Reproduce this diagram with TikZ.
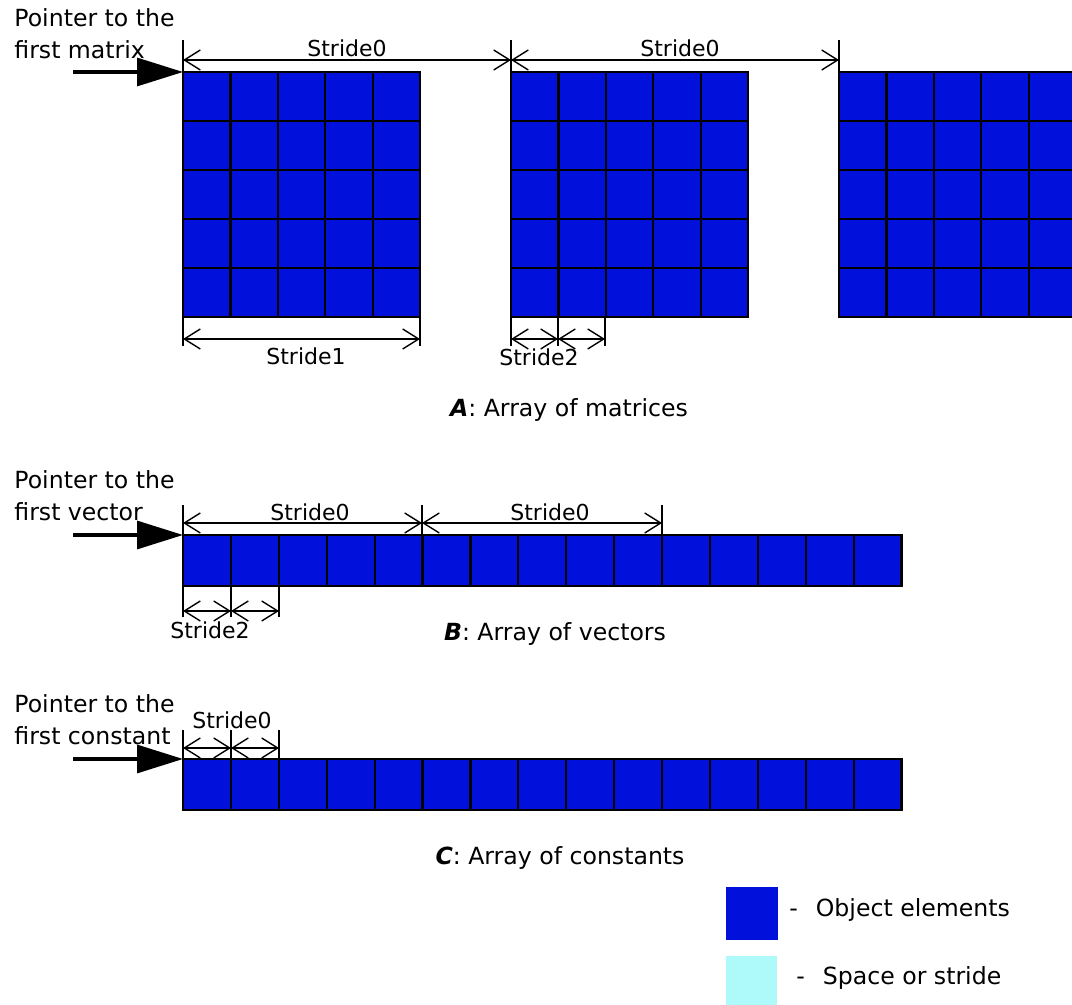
\documentclass[tikz,border=0pt]{standalone}
\usepackage{fontspec}
\setmainfont{DejaVu Sans}
\usepackage{tikz}
\usetikzlibrary{arrows.meta}

\definecolor{elemblue}{RGB}{2,16,220}
\definecolor{gapcyan}{RGB}{174,250,250}

\tikzset{
  elem/.style={draw=black, line width=1.1pt, fill=elemblue},
  dimline/.style={{Straight Barb[length=8pt,width=10pt]}-{Straight Barb[length=8pt,width=10pt]}, line width=0.7pt},
  extline/.style={line width=0.7pt},
  pointer/.style={-{Triangle[length=23pt,width=14pt]}, line width=1.6pt},
  lbl/.style={font=\fontsize{11}{13}\selectfont, inner sep=0pt},
  txt/.style={font=\fontsize{11.8}{16}\selectfont, inner sep=0pt, align=left},
}

\begin{document}
\begin{tikzpicture}[x=0.5pt, y=-0.5pt]
    \useasboundingbox (0,0) rectangle (1072,1005);
    \clip (0,0) rectangle (1072,1005);

    % A: array of matrices
    \begin{scope}
      \foreach \n/\mx in {1/183,2/511,3/839} {
        \foreach \c in {0,...,4}
          \foreach \r in {0,...,4}
            \draw[elem] (\mx+\c*47.4, 72+\r*49) rectangle +(47.4,49);
        \coordinate (atop\n) at (\mx,40);
        \coordinate (adim\n) at (\mx,60);
        \coordinate (am\n) at (\mx,72);
        \draw[extline] (atop\n) -- (am\n);
      }
      \draw[dimline] (adim1) -- (adim2);
      \draw[dimline] (adim2) -- (adim3);
      \node[lbl] (as0a) at (347,48) {Stride0};
      \node[lbl] (as0b) at (680,48) {Stride0};

      \coordinate (ap) at (73,72);
      \draw[pointer] (ap) -- (am1);
      \node[txt, anchor=north west] (ptrA) at (14,8) {Pointer to the\\first matrix};

      % row stride under the first matrix
      \coordinate (ab1) at (183,317);
      \coordinate (ab2) at (420,317);
      \coordinate (ae1) at (183,346);
      \coordinate (ae2) at (420,346);
      \coordinate (ad1) at (183,339);
      \coordinate (ad2) at (420,339);
      \draw[extline] (ab1) -- (ae1);
      \draw[extline] (ab2) -- (ae2);
      \draw[dimline] (ad1) -- (ad2);
      \node[lbl] (as1) at (306,356) {Stride1};

      % element stride under the second matrix
      \foreach \n/\x in {1/511,2/558,3/605} {
        \coordinate (ac\n) at (\x,317);
        \coordinate (acd\n) at (\x,339);
        \coordinate (ace\n) at (\x,346);
        \draw[extline] (ac\n) -- (ace\n);
      }
      \draw[dimline] (acd1) -- (acd2);
      \draw[dimline] (acd2) -- (acd3);
      \node[lbl] (as2) at (539,357) {Stride2};

      \node[txt] (capA) at (569,410) {\textbf{\textit{A}}: Array of matrices};
    \end{scope}

    % B: array of vectors
    \begin{scope}
      \foreach \c in {0,...,14}
        \draw[elem] (183+\c*47.9,535) rectangle +(47.9,51);
      \foreach \n/\x in {1/183,2/422,3/662} {
        \coordinate (btop\n) at (\x,505);
        \coordinate (bdim\n) at (\x,523);
        \coordinate (bm\n) at (\x,535);
        \draw[extline] (btop\n) -- (bm\n);
      }
      \draw[dimline] (bdim1) -- (bdim2);
      \draw[dimline] (bdim2) -- (bdim3);
      \node[lbl] (bs0a) at (310,512) {Stride0};
      \node[lbl] (bs0b) at (550,512) {Stride0};

      \coordinate (bp) at (73,535);
      \draw[pointer] (bp) -- (bm1);
      \node[txt, anchor=north west] (ptrB) at (14,470) {Pointer to the\\first vector};

      \foreach \n/\x in {1/183,2/231,3/279} {
        \coordinate (bc\n) at (\x,586);
        \coordinate (bcd\n) at (\x,611);
        \coordinate (bce\n) at (\x,617);
        \draw[extline] (bc\n) -- (bce\n);
      }
      \draw[dimline] (bcd1) -- (bcd2);
      \draw[dimline] (bcd2) -- (bcd3);
      \node[lbl] (bs2) at (210,630) {Stride2};

      \node[txt] (capB) at (555,634) {\textbf{\textit{B}}: Array of vectors};
    \end{scope}

    % C: array of constants
    \begin{scope}
      \foreach \c in {0,...,14}
        \draw[elem] (183+\c*47.9,759) rectangle +(47.9,51);
      \foreach \n/\x in {1/183,2/231,3/279} {
        \coordinate (ctop\n) at (\x,730);
        \coordinate (cdim\n) at (\x,748);
        \coordinate (cm\n) at (\x,759);
        \draw[extline] (ctop\n) -- (cm\n);
      }
      \draw[dimline] (cdim1) -- (cdim2);
      \draw[dimline] (cdim2) -- (cdim3);
      \node[lbl] (cs0) at (232,720) {Stride0};

      \coordinate (cp) at (73,759);
      \draw[pointer] (cp) -- (cm1);
      \node[txt, anchor=north west] (ptrC) at (14,694) {Pointer to the\\first constant};

      \node[txt] (capC) at (560,858) {\textbf{\textit{C}}: Array of constants};
    \end{scope}

    % legend
    \fill[elemblue] (726,887) rectangle (778,940);
    \node[txt, anchor=west] (keyA) at (789,910) {-\hspace{9pt}Object elements};
    \fill[gapcyan] (726,956) rectangle (777,1005);
    \node[txt, anchor=west] (keyB) at (796,978) {-\hspace{9pt}Space or stride};
\end{tikzpicture}
\end{document}
